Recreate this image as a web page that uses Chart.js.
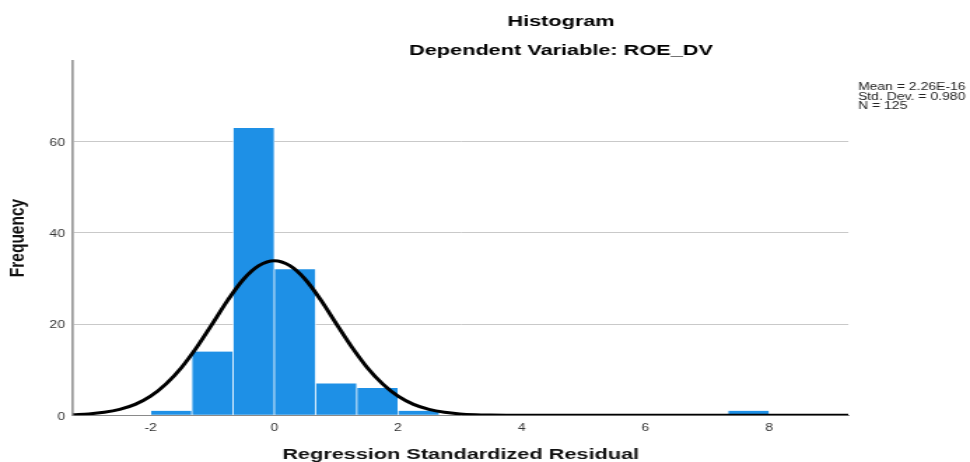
<!DOCTYPE html>
<html>
<head>
<meta charset="utf-8">
<style>
html,body{margin:0;padding:0;background:#fff;overflow:hidden}
</style>
<script src="https://cdn.jsdelivr.net/npm/chart.js@4/dist/chart.umd.min.js"></script>
</head>
<body>
<canvas id="c" width="693" height="462" style="display:block;width:970px;height:462px"></canvas>
<script>
// ---- data ----
const binLower = [-2, -1.3333, -0.6667, 0, 0.6667, 1.3333, 2, 7.3333];
const binWidth = 0.6667;
const counts = [1, 14, 63, 32, 7, 6, 1, 1];

// normal curve
const curveX = [-3.25, -3, -2.75, -2.5, -2.25, -2, -1.75, -1.5, -1.25, -1, -0.75, -0.5, -0.25, 0,
                0.25, 0.5, 0.75, 1, 1.25, 1.5, 1.75, 2, 2.25, 2.5, 2.75, 3, 3.25, 3.5, 3.75, 4, 9.28];
const curveY = [0.14, 0.31, 0.66, 1.3, 2.4, 4.2, 6.9, 10.5, 15.0, 20.1, 25.3, 29.8, 32.8, 33.9,
                32.8, 29.8, 25.3, 20.1, 15.0, 10.5, 6.9, 4.2, 2.4, 1.3, 0.66, 0.31, 0.14, 0.06, 0.02, 0.01, 0];

const xTicks = [-2, 0, 2, 4, 6, 8];
const yTicks = [0, 20, 40, 60];
const titleLines = ['Histogram', 'Dependent Variable: ROE_DV'];
const statsLines = ['Mean = 2.26E-16', 'Std. Dev. = 0.980', 'N = 125'];
const xTitle = 'Regression Standardized Residual';
const yTitle = 'Frequency';

// ---- chart ----
const FAM = '"Liberation Sans", Arial, sans-serif';

const textPlugin = {
  id: 'texts',
  afterDraw(chart) {
    const ctx = chart.ctx;
    ctx.save();
    ctx.fillStyle = '#000';
    ctx.font = 'bold 15.5px ' + FAM;
    ctx.textAlign = 'center';
    ctx.textBaseline = 'alphabetic';
    ctx.fillText(titleLines[0], 400.8, 26);
    ctx.fillText(titleLines[1], 400.8, 55);
    ctx.font = '10px ' + FAM;
    ctx.fillStyle = '#222';
    ctx.textAlign = 'left';
    statsLines.forEach((s, i) => ctx.fillText(s, 612.9, 89.7 + i * 9.8));
    ctx.restore();
  }
};

new Chart(document.getElementById('c'), {
  type: 'bar',
  data: {
    datasets: [
      {
        type: 'line',
        data: curveX.map((x, i) => ({ x: x, y: curveY[i] })),
        borderColor: '#000',
        borderWidth: 3,
        pointRadius: 0,
        fill: false,
        cubicInterpolationMode: 'monotone',
        order: 1
      },
      {
        type: 'bar',
        data: binLower.map((b, i) => ({ x: b + binWidth / 2, y: counts[i] })),
        backgroundColor: '#1e90e6',
        borderColor: '#ffffff',
        borderWidth: { left: 0.7, right: 0.7, top: 0, bottom: 0 },
        borderSkipped: false,
        barPercentage: 1,
        categoryPercentage: 1,
        order: 2
      }
    ]
  },
  options: {
    responsive: false,
    animation: false,
    devicePixelRatio: 1,
    layout: { padding: { top: 60.7, right: 86.9, left: 0, bottom: 0 } },
    plugins: { legend: { display: false }, tooltip: { enabled: false } },
    scales: {
      x: {
        type: 'linear',
        min: -3.255,
        max: 9.28,
        offset: false,
        afterBuildTicks: s => { s.ticks = xTicks.map(v => ({ value: v })); },
        afterFit: s => { s.height = 46.7; },
        grid: { display: false, drawTicks: false },
        border: { display: true, color: '#8a8a8a', width: 1 },
        ticks: { padding: 6.5, color: '#333', font: { family: FAM, size: 10 }, maxRotation: 0, autoSkip: false },
        title: { display: true, text: xTitle, color: '#111', font: { family: FAM, size: 15.5, weight: 'bold' }, padding: { top: 0, bottom: -2.3 } }
      },
      y: {
        type: 'linear',
        min: 0,
        max: 77.76,
        afterBuildTicks: s => { s.ticks = yTicks.map(v => ({ value: v })); },
        afterFit: s => { s.width = 52.14; },
        grid: { color: '#c9c9c9', lineWidth: 1, drawTicks: false },
        border: { display: true, color: '#9a9a9a', width: 1.7 },
        ticks: { padding: 5.7, color: '#333', font: { family: FAM, size: 10 }, labelOffset: 1.5 },
        title: { display: true, text: yTitle, color: '#111', font: { family: FAM, size: 15.5, weight: 'bold' }, padding: { top: 3.7, bottom: 0 } }
      }
    }
  },
  plugins: [textPlugin]
});
</script>
</body>
</html>
